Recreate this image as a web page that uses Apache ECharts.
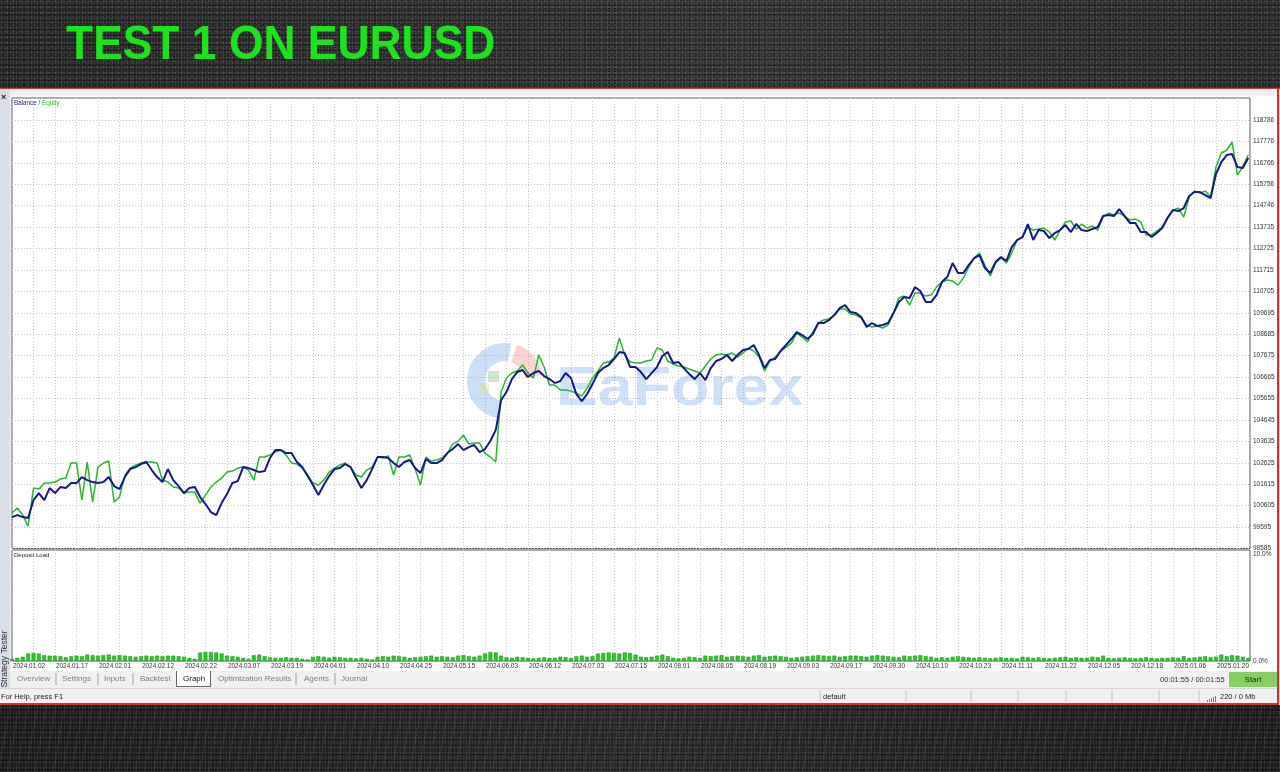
<!DOCTYPE html>
<html><head><meta charset="utf-8">
<script src="https://cdn.jsdelivr.net/npm/echarts@6/dist/echarts.min.js"></script>
<style>
html,body{margin:0;padding:0;width:1280px;height:772px;overflow:hidden;}
body{position:relative;background:#232323;}
.abs{position:absolute;}
#bgTop{left:0;top:0;width:1280px;height:88px;background-color:#2a2a2a;
 background-image:radial-gradient(rgba(255,255,255,0.14) 0.6px,transparent 1.2px),radial-gradient(rgba(0,0,0,0.5) 0.8px,transparent 1.5px),radial-gradient(rgba(255,255,255,0.08) 0.9px,transparent 1.6px),linear-gradient(90deg,#262626,#323232 60%,#2a2a2a);
 background-size:3px 5px,5px 3px,7px 6px,100% 100%;background-position:0 0,2px 1px,3px 4px,0 0;}
#bgBot{left:0;top:705px;width:1280px;height:67px;background-color:#1e1e1e;
 background-image:radial-gradient(rgba(255,255,255,0.11) 0.6px,transparent 1.2px),radial-gradient(rgba(0,0,0,0.5) 0.8px,transparent 1.5px),repeating-linear-gradient(100deg,rgba(255,255,255,0.05) 0 2px,transparent 2px 9px),linear-gradient(90deg,#1c1c1c,#2a2a2a 50%,#1c1c1c);
 background-size:3px 5px,5px 3px,100% 100%,100% 100%;}
#win{left:0;top:88px;width:1280px;height:617px;background:#f0f0f0;box-sizing:border-box;border-top:1px solid #c83a3a;}
#redR{left:1277px;top:88px;width:2px;height:617px;background:#e02a2a;}
#redB{left:0;top:703px;width:1279px;height:2px;background:#d93030;}
#leftStrip{left:0;top:89px;width:10px;height:599px;background:#d9dfea;}
#white{left:11px;top:96px;width:1266px;height:575px;background:#ffffff;}
#tabGraph{left:176px;top:671px;width:33px;height:15px;background:#ffffff;border:1px solid #666;border-top:none;}
#start{left:1229px;top:672px;width:48px;height:15px;background:#86cf63;}
#statusLine{left:0;top:688px;width:1277px;height:1px;background:#d6d6d6;}
#chart{left:0;top:0;width:1280px;height:772px;z-index:5;}
</style></head>
<body>
<div id="bgTop" class="abs"></div>
<div id="win" class="abs"></div>
<div id="redR" class="abs"></div>
<div id="redB" class="abs"></div>
<div id="leftStrip" class="abs"></div>
<div id="white" class="abs"></div>
<div id="tabGraph" class="abs"></div>
<div id="start" class="abs"></div>
<div id="statusLine" class="abs"></div>
<div id="bgBot" class="abs"></div>
<div id="chart" class="abs"></div>
<script>
// ---- data ----
var balance = [
100067,100161,100067,100020,100868,101198,100868,101434,101198,101481,
101434,101670,101670,101953,101811,101717,101670,101717,101953,101528,
101386,101953,102330,102424,102566,102660,102283,101953,101717,102330,
101811,101528,101198,101434,101481,101009,100680,100303,100161,100727,
101151,101670,101764,102424,102377,102283,102188,102236,102849,103226,
103226,103085,103085,102660,102424,102000,101575,101104,
101575,102000,102330,102377,102566,102424,101905,101434,101811,102330,
102896,102896,102849,102613,102424,102660,102755,102377,102141,102802,
102613,102613,102755,103085,103273,103509,103226,103367,103462,103132,
103273,103650,104169,
105583,105960,106573,106904,106998,106667,106856,106951,106715,106573,
106384,106479,106856,106620,105865,105536,105865,106337,106856,107092,
107234,107517,107847,107800,107139,107139,106904,106573,106856,107139,
107658,107847,107328,107375,107092,106809,106573,106856,106526,107092,
107423,107517,107706,107423,107706,107941,107988,108177,107706,107092,
107470,107517,107894,108177,108460,108790,
108648,108460,108696,109215,109215,109356,109592,109922,110063,109733,
109686,109497,109026,109215,109073,109120,109215,109686,110205,110439,
110392,110910,110722,110205,110205,110533,111146,111382,112042,111571,
111571,111948,112278,112420,111807,111571,112090,112325,112137,112797,
113127,113268,113881,113127,113598,113551,113221,113457,113598,113834,
113504,113881,113598,113551,113645,113740,114259,114306,114259,114589,
114259,113929,113929,113504,113504,113268,113457,113692,114164,114542,
114494,114636,115201,115390,115390,115249,115107,116239,116804,117134,
117181,116569,116522,116993
];
var equity = [
100256,100491,100161,99643,101434,101386,101670,101670,101717,101858,
101905,102613,102613,100868,102660,100774,102424,102613,102707,100774,
101009,102047,102377,102519,102613,102660,102660,102613,101811,101717,
101481,101434,101198,101245,101245,100727,101104,101481,101717,101905,
102188,102236,102377,102424,102283,101811,102896,102896,102990,103132,
103226,102990,102613,102566,102377,102047,101670,101575,
101811,102188,102377,102519,102613,102424,102047,101953,102283,102424,
102896,102849,102943,102047,102896,102896,102990,102330,101575,102896,
102707,102755,102849,103085,103509,103650,103933,103509,103556,103556,
103085,102896,102660,
105960,106620,106856,106951,107234,106856,106620,107706,107139,106290,
106290,106054,106054,106007,105913,105771,106148,106620,106951,107328,
107375,107564,108507,107706,107375,107328,107328,107423,107470,108036,
107941,107423,107281,107187,107139,107045,106951,106856,107187,107517,
107706,107753,107706,107800,107611,107800,108036,107894,107611,106951,
107423,107611,107894,108083,108271,108743,
108554,108318,108790,109215,109356,109403,109592,109875,109875,109639,
109592,109450,109120,109026,109073,108979,109120,109686,110392,110486,
110063,110627,110627,110486,110533,110910,111146,111241,111194,111005,
111335,111854,112278,112514,111948,111430,112042,112278,112042,112514,
113127,113268,113740,113598,113645,113692,113504,113127,113598,113976,
114023,113645,113881,113692,113787,113598,114212,114400,114306,114400,
114259,114070,114117,113976,113362,113362,113551,113740,114212,114542,
114636,114212,115154,115437,115343,115437,115154,116569,117229,117370,
117747,116191,116616,117134
];
var depositLoad = [
0.2,0.3,0.4,0.7,0.75,0.7,0.55,0.5,0.5,0.45,
0.35,0.45,0.5,0.45,0.6,0.55,0.5,0.55,0.6,0.5,
0.55,0.5,0.45,0.4,0.45,0.5,0.45,0.5,0.45,0.5,
0.5,0.45,0.4,0.3,0.2,0.8,0.85,0.85,0.8,0.7,
0.5,0.45,0.4,0.3,0.2,0.55,0.6,0.45,0.35,0.3,
0.3,0.35,0.3,0.3,0.2,0.15,0.4,0.45,0.4,0.3,
0.4,0.35,0.3,0.3,0.25,0.3,0.2,0.15,0.4,0.45,
0.4,0.5,0.45,0.4,0.3,0.35,0.4,0.45,0.5,0.4,
0.45,0.4,0.35,0.5,0.55,0.45,0.4,0.5,0.7,0.85,
0.8,0.5,0.35,0.3,0.4,0.35,0.3,0.25,0.3,0.35,
0.3,0.3,0.4,0.35,0.3,0.45,0.5,0.4,0.45,0.7,
0.75,0.8,0.75,0.7,0.8,0.75,0.6,0.4,0.35,0.4,
0.5,0.6,0.45,0.3,0.25,0.3,0.4,0.35,0.3,0.5,
0.45,0.5,0.55,0.4,0.45,0.5,0.45,0.4,0.5,0.55,
0.4,0.45,0.5,0.45,0.4,0.3,0.35,0.4,0.45,0.5,
0.55,0.5,0.45,0.5,0.4,0.45,0.5,0.5,0.45,0.4,
0.5,0.55,0.5,0.45,0.4,0.35,0.5,0.45,0.5,0.55,
0.45,0.4,0.3,0.35,0.3,0.4,0.45,0.4,0.35,0.3,
0.35,0.3,0.25,0.3,0.35,0.3,0.3,0.25,0.4,0.35,
0.3,0.35,0.3,0.25,0.3,0.35,0.4,0.3,0.35,0.3,
0.3,0.4,0.35,0.5,0.3,0.25,0.3,0.35,0.3,0.25,
0.3,0.35,0.3,0.25,0.3,0.3,0.35,0.3,0.45,0.3,
0.35,0.4,0.45,0.35,0.4,0.6,0.45,0.55,0.5,0.4,
0.3
];
var dateLabels = ['2024.01.02','2024.01.17','2024.02.01','2024.02.12','2024.02.22','2024.03.07','2024.03.19','2024.04.01','2024.04.10','2024.04.25','2024.05.15','2024.06.03','2024.06.12','2024.07.03','2024.07.15','2024.08.01','2024.08.05','2024.08.19','2024.09.03','2024.09.17','2024.09.30','2024.10.10','2024.10.23','2024.11.11','2024.11.22','2024.12.05','2024.12.18','2025.01.06','2025.01.20'];
var yTickLabels = ['98585','99595','100605','101615','102625','103635','104645','105655','106665','107675','108685','109695','110705','111715','112725','113735','114746','115756','116766','117776','118786'];
var loadTickLabels = ['0.0%','10.0%'];
var tabs = ['Overview','Settings','Inputs','Backtest','Graph','Optimization Results','Agents','Journal'];

// ---- chart ----
var Y_MIN = 98585, Y_STEP = 1010.05, Y_MAX = 119823;
var X_MAX = 230.33, X_STEP = 4;
var FONT = '"Liberation Sans", Arial, sans-serif';

function pairs(arr){ return arr.map(function(v,i){ return [i, v]; }); }

var chart = echarts.init(document.getElementById('chart'), null, {renderer:'canvas'});
var dotted = {show:true, lineStyle:{color:'#c4c4c4', type:[1,2], width:1}};

var tabX = [17,62,104,140,183,218,304,341];
var sepX = [56,98,133,296,335];
var graphics = [];
// title
graphics.push({type:'text', x:66, y:46, scaleX:0.935, z:10,
  style:{text:'TEST 1 ON EURUSD', fill:'#1ce41c', font:'bold 47.5px '+FONT, align:'left', verticalAlign:'middle'}});
graphics.push({type:'text', x:1, y:98, z:10, style:{text:'×', fill:'#222', font:'bold 9px '+FONT, align:'left', verticalAlign:'middle'}});
graphics.push({type:'text', x:14, y:103, z:10, style:{text:'{b|Balance} / {e|Equity}', fill:'#444', font:'6.3px '+FONT, align:'left', verticalAlign:'middle',
  rich:{b:{fill:'#1a1a9a', font:'6.3px '+FONT}, e:{fill:'#22bb22', font:'6.3px '+FONT}}}});
graphics.push({type:'text', x:14, y:555, z:10, style:{text:'Deposit Load', fill:'#222', font:'6px '+FONT, align:'left', verticalAlign:'middle'}});
graphics.push({type:'text', x:5, y:659, rotation:Math.PI/2, z:10, style:{text:'Strategy Tester', fill:'#333', font:'8.5px '+FONT, align:'center', verticalAlign:'middle'}});
tabs.forEach(function(t,i){
  graphics.push({type:'text', x:tabX[i], y:679, z:10, style:{text:t, fill:(t==='Graph'?'#111':'#7d7d7d'), font:'8px '+FONT, align:'left', verticalAlign:'middle'}});
});
sepX.forEach(function(x){
  graphics.push({type:'line', z:10, shape:{x1:x,y1:673,x2:x,y2:685}, style:{stroke:'#a0a0a0', lineWidth:1}});
});
graphics.push({type:'text', x:1160, y:680, z:10, style:{text:'00:01:55 / 00:01:55', fill:'#333', font:'7.5px '+FONT, align:'left', verticalAlign:'middle'}});
graphics.push({type:'text', x:1253, y:680, z:10, style:{text:'Start', fill:'#1a1a1a', font:'8px '+FONT, align:'center', verticalAlign:'middle'}});
graphics.push({type:'text', x:1, y:697, z:10, style:{text:'For Help, press F1', fill:'#222', font:'7.5px '+FONT, align:'left', verticalAlign:'middle'}});
graphics.push({type:'text', x:823, y:697, z:10, style:{text:'default', fill:'#222', font:'7.5px '+FONT, align:'left', verticalAlign:'middle'}});
graphics.push({type:'text', x:1220, y:697, z:10, style:{text:'220 / 0 Mb', fill:'#222', font:'7.5px '+FONT, align:'left', verticalAlign:'middle'}});
[820,906,971,1018,1066,1112,1159,1199].forEach(function(x){
  graphics.push({type:'line', z:10, shape:{x1:x,y1:690,x2:x,y2:702}, style:{stroke:'#c4c4c4', lineWidth:1}});
});
[[1207,700,1,2],[1209,699,1,3],[1211,698,1,4],[1213,697,1,5],[1215,696,1,6]].forEach(function(r){
  graphics.push({type:'rect', z:10, shape:{x:r[0],y:r[1],width:r[2],height:r[3]}, style:{fill:'#3aa83a'}});
});
// watermark
graphics.push({type:'arc', z:1, shape:{cx:505, cy:381, r:29, startAngle:Math.PI*0.55, endAngle:Math.PI*1.55, clockwise:true}, style:{stroke:'rgba(95,155,235,0.32)', lineWidth:18, fill:null}});
graphics.push({type:'arc', z:1, shape:{cx:505, cy:381, r:29, startAngle:Math.PI*1.6, endAngle:Math.PI*1.95, clockwise:true}, style:{stroke:'rgba(240,110,110,0.30)', lineWidth:18, fill:null}});
graphics.push({type:'rect', z:1, shape:{x:488,y:371,width:11,height:11}, style:{fill:'rgba(110,190,110,0.35)'}});
graphics.push({type:'rect', z:1, shape:{x:479,y:384,width:10,height:10}, style:{fill:'rgba(225,225,110,0.35)'}});
graphics.push({type:'text', x:556, y:390, scaleX:1.12, z:1, style:{text:'EaForex', fill:'rgba(110,165,235,0.33)', font:'bold 56px '+FONT, align:'left', verticalAlign:'middle'}});

var option = {
  backgroundColor:'transparent',
  animation:false,
  graphic:{elements:graphics},
  grid:[
    {left:12, top:98, width:1238, height:450.5, show:true, borderColor:'#555', borderWidth:1, backgroundColor:'transparent'},
    {left:12, top:550, width:1238, height:111, show:true, borderColor:'#555', borderWidth:1, backgroundColor:'transparent'}
  ],
  xAxis:[
    {type:'value', gridIndex:0, min:0, max:X_MAX, interval:X_STEP, axisLine:{show:false}, axisTick:{show:false}, axisLabel:{show:false}, splitLine:dotted},
    {type:'value', gridIndex:1, min:0, max:X_MAX, interval:X_STEP, axisLine:{show:false}, axisTick:{show:false}, splitLine:dotted,
      axisLabel:{show:true, align:'left', margin:2, color:'#333', fontSize:6.4, fontFamily:FONT, padding:[0,0,0,1],
        formatter:function(v){ var k=Math.round(v/X_STEP); if(Math.abs(v-k*X_STEP)>0.01||k%2) return ''; return dateLabels[k/2]||''; }}}
  ],
  yAxis:[
    {type:'value', gridIndex:0, position:'right', min:Y_MIN, max:Y_MAX, interval:Y_STEP, axisLine:{show:false}, axisTick:{show:false}, splitLine:dotted,
      axisLabel:{show:true, margin:3, color:'#333', fontSize:6.5, fontFamily:FONT,
        formatter:function(v){ var k=Math.round((v-Y_MIN)/Y_STEP); if(Math.abs(v-(Y_MIN+k*Y_STEP))>1) return ''; return yTickLabels[k]||''; }}},
    {type:'value', gridIndex:1, position:'right', min:0, max:10.374, interval:10, axisLine:{show:false}, axisTick:{show:false}, splitLine:{show:false},
      axisLabel:{show:true, margin:3, color:'#333', fontSize:6.5, fontFamily:FONT,
        formatter:function(v){ if(v===0) return loadTickLabels[0]; if(Math.abs(v-10)<0.001) return loadTickLabels[1]; return ''; }}}
  ],
  series:[
    {name:'Equity', type:'line', xAxisIndex:0, yAxisIndex:0, data:pairs(equity), showSymbol:false, symbol:'none',
      lineStyle:{color:'#2db42d', width:1.5}, z:3},
    {name:'Balance', type:'line', xAxisIndex:0, yAxisIndex:0, data:pairs(balance), showSymbol:false, symbol:'none',
      lineStyle:{color:'#16168e', width:2}, z:4},
    {name:'Deposit Load', type:'bar', xAxisIndex:1, yAxisIndex:1, data:pairs(depositLoad), barWidth:4,
      itemStyle:{color:'#2ec42e', borderColor:'#179a17', borderWidth:0.5}, z:3}
  ]
};
chart.setOption(option);
</script>
</body></html>
